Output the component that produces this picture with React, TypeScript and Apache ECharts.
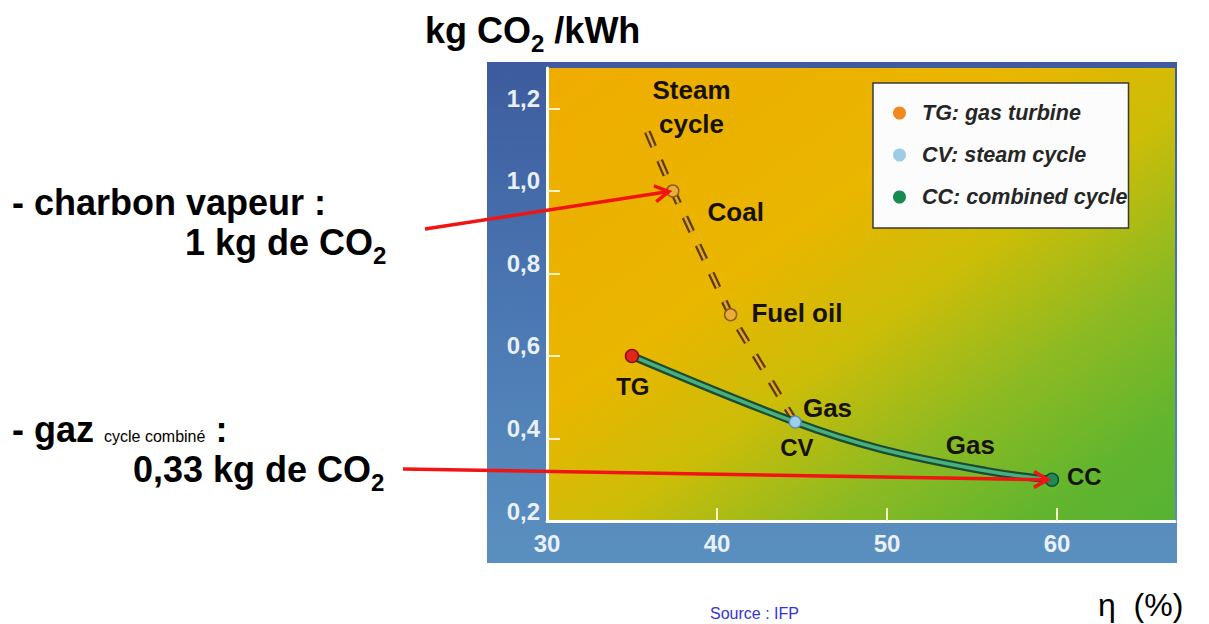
import React, { useEffect, useRef } from 'react';
import * as echarts from 'echarts';

// ---- data ----
const xTicks = [30, 40, 50, 60];
const yTicks = [0.2, 0.4, 0.6, 0.8, 1.0, 1.2];
const xTickMarks = [40, 50, 60];
const yTickMarks = [0.4, 0.6, 0.8, 1.0, 1.2];

const gasCurveX = [35, 44.6, 49.6, 55.9, 59.7];
const gasCurveY = [0.6, 0.44, 0.375, 0.321, 0.3];

const steamLineX = [35.9, 37.4, 40.8, 44.6];
const steamLineY = [1.143, 1.0, 0.7, 0.44];

const plantNames = ['TG', 'CV', 'CC'];
const plantX = [35, 44.6, 59.7];
const plantY = [0.6, 0.44, 0.3];

const fuelNames = ['Coal', 'Fuel oil'];
const fuelX = [37.4, 40.8];
const fuelY = [1.0, 0.7];

const legendNames = ['TG: gas turbine', 'CV: steam cycle', 'CC: combined cycle'];

const noteTexts = ['Steam\ncycle', 'Coal', 'Fuel oil', 'TG', 'Gas', 'CV', 'Gas', 'CC'];
const noteX = [38.5, 41.1, 44.7, 35.05, 46.5, 44.7, 54.9, 61.6];
const noteY = [1.204, 0.949, 0.704, 0.525, 0.474, 0.379, 0.384, 0.307];

const X_MIN = 30;
const X_MAX = 66.94;
const Y_MIN = 0.2;
const Y_MAX = 1.298;

const FONT = "'Liberation Sans', Arial, Helvetica, sans-serif";

function zip(a: number[], b: number[]) {
  return a.map((v, i) => [v, b[i]]);
}

function arrow(id: string, sx: number, sy: number, tx: number, ty: number) {
  const dx = tx - sx;
  const dy = ty - sy;
  const len = Math.hypot(dx, dy);
  const ux = dx / len;
  const uy = dy / len;
  const ex = tx - ux * 4;
  const ey = ty - uy * 4;
  const head = 16;
  const ang = 0.52;
  const wing = (a: number) => {
    const c = Math.cos(a);
    const s = Math.sin(a);
    const rx = ux * c - uy * s;
    const ry = uy * c + ux * s;
    return [ex - head * rx, ey - head * ry];
  };
  const stroke = '#F01414';
  return [
    {
      type: 'line',
      id: id + '_l',
      z: 200,
      shape: { x1: sx, y1: sy, x2: ex, y2: ey },
      style: { stroke, lineWidth: 3.5 },
    },
    {
      type: 'polyline',
      id: id + '_h',
      z: 200,
      shape: { points: [wing(ang), [ex, ey], wing(-ang)] },
      style: { stroke, lineWidth: 3.5, fill: 'none', lineJoin: 'miter' },
    },
  ];
}

export default function App() {
  const ref = useRef<HTMLDivElement>(null);

  useEffect(() => {
    const chart = echarts.init(ref.current!, null, { renderer: 'svg' });

    const plantColors = ['#E2261C', '#9DD0EC', '#1F8A55'];
    const plantBorders = ['#8A1010', '#5E8FB5', '#0F4F30'];
    const legendColors = ['#F08A1E', '#9ECCE2', '#178A52'];

    const bigRich = {
      b: { fontSize: 36, fontWeight: 'bold', lineHeight: 50, fill: '#000', fontFamily: FONT },
      s: { fontSize: 24, fontWeight: 'bold', lineHeight: 24, verticalAlign: 'bottom', fill: '#000', fontFamily: FONT },
    };

    const option: any = {
      animation: false,
      textStyle: { fontFamily: FONT },
      grid: {
        left: 547,
        top: 68,
        width: 628,
        height: 453,
        show: true,
        borderWidth: 0,
        backgroundColor: new echarts.graphic.LinearGradient(0, 0, 1, 1, [
          { offset: 0, color: '#EFAC00' },
          { offset: 0.38, color: '#E9B600' },
          { offset: 0.55, color: '#CBBD08' },
          { offset: 0.72, color: '#8DBA22' },
          { offset: 0.88, color: '#62B52E' },
          { offset: 1, color: '#56B234' },
        ]),
      },
      xAxis: {
        type: 'value',
        min: X_MIN,
        max: X_MAX,
        splitLine: { show: false },
        axisLine: { show: true, lineStyle: { color: '#FFFFFF', width: 3 } },
        axisTick: {
          show: true,
          inside: true,
          length: 13,
          customValues: xTickMarks,
          lineStyle: { color: '#F6F2C8', width: 2 },
        },
        axisLabel: {
          customValues: xTicks,
          color: '#EAF0F8',
          fontSize: 24,
          fontWeight: 'bold',
          fontFamily: FONT,
          margin: 10,
        },
      },
      yAxis: {
        type: 'value',
        min: Y_MIN,
        max: Y_MAX,
        splitLine: { show: false },
        axisLine: { show: true, lineStyle: { color: '#FFFFFF', width: 3 } },
        axisTick: {
          show: true,
          inside: true,
          length: 13,
          customValues: yTickMarks,
          lineStyle: { color: '#F6F2C8', width: 2 },
        },
        axisLabel: {
          customValues: yTicks,
          color: '#EAF0F8',
          fontSize: 24,
          fontWeight: 'bold',
          fontFamily: FONT,
          margin: 7,
          verticalAlign: 'bottom',
          lineHeight: 20,
          formatter: (v: number) => v.toFixed(1).replace('.', ','),
        },
      },
      legend: {
        orient: 'vertical',
        left: 873,
        top: 83,
        backgroundColor: '#FCFCFC',
        borderColor: '#3A3A3A',
        borderWidth: 1.5,
        padding: [19, 1, 20, 20],
        itemGap: 20,
        itemWidth: 13,
        itemHeight: 13,
        icon: 'circle',
        selectedMode: false,
        data: legendNames,
        textStyle: {
          fontSize: 21.5,
          fontStyle: 'italic',
          fontWeight: 'bold',
          color: '#262626',
          fontFamily: FONT,
          lineHeight: 22,
          padding: [0, 0, 0, 11],
        },
      },
      series: [
        ...legendNames.map((n, i) => ({
          type: 'scatter',
          name: n,
          data: [],
          itemStyle: { color: legendColors[i], opacity: 1 },
        })),
        {
          type: 'line',
          name: 'steam-outer',
          data: zip(steamLineX, steamLineY),
          symbol: 'none',
          z: 3,
          lineStyle: { color: '#5E3C12', width: 7, type: [16, 15] },
        },
        {
          type: 'line',
          name: 'steam-inner',
          data: zip(steamLineX, steamLineY),
          symbol: 'none',
          z: 4,
          lineStyle: { color: '#E6AA28', width: 2.5, type: [16, 15] },
        },
        {
          type: 'line',
          name: 'gas-outer',
          data: zip(gasCurveX, gasCurveY),
          symbol: 'none',
          smooth: 0.4,
          z: 5,
          lineStyle: { color: '#1D4A32', width: 8 },
        },
        {
          type: 'line',
          name: 'gas-inner',
          data: zip(gasCurveX, gasCurveY),
          symbol: 'none',
          smooth: 0.4,
          z: 6,
          lineStyle: { color: '#46B07E', width: 3.5 },
        },
        {
          type: 'scatter',
          name: 'fuels',
          z: 7,
          symbolSize: 12,
          data: fuelNames.map((n, i) => ({ name: n, value: [fuelX[i], fuelY[i]] })),
          itemStyle: { color: '#E9AE3A', borderColor: '#8E5E18', borderWidth: 1.5, opacity: 1 },
        },
        {
          type: 'scatter',
          name: 'plants',
          z: 8,
          data: plantNames.map((n, i) => ({
            name: n,
            value: [plantX[i], plantY[i]],
            symbolSize: i === 1 ? 12 : 13,
            itemStyle: { color: plantColors[i], borderColor: plantBorders[i], borderWidth: 1.5, opacity: 1 },
          })),
        },
        {
          type: 'scatter',
          name: 'notes',
          z: 9,
          symbolSize: 0,
          silent: true,
          itemStyle: { color: 'rgba(0,0,0,0)', opacity: 1 },
          data: noteTexts.map((t, i) => ({
            name: t,
            value: [noteX[i], noteY[i]],
            label: { fontSize: ['TG', 'CV', 'CC'].includes(t) ? 24 : 26 },
          })),
          label: {
            show: true,
            position: 'inside',
            formatter: (p: any) => p.name,
            color: '#16120A',
            opacity: 1,
            fontWeight: 'bold',
            fontFamily: FONT,
            lineHeight: 34,
            align: 'center',
            textBorderWidth: 0,
            textBorderColor: 'transparent',
          },
        },
      ],
      graphic: [
        {
          type: 'rect',
          id: 'frame',
          z: -100,
          shape: { x: 487, y: 62, width: 690, height: 501 },
          style: {
            fill: new echarts.graphic.LinearGradient(0, 0, 0, 1, [
              { offset: 0, color: '#3D5B9E' },
              { offset: 0.5, color: '#4B78B2' },
              { offset: 1, color: '#5A90C0' },
            ]),
          },
        },
        {
          type: 'text',
          id: 'title',
          x: 425,
          y: 5,
          style: {
            text: '{b|kg CO}{s|2}{b| /kWh}',
            verticalAlign: 'top',
            fill: '#000',
            fontFamily: FONT,
            rich: bigRich,
          },
        },
        {
          type: 'text',
          id: 'coalTxt1',
          x: 12,
          y: 202,
          style: {
            text: '- charbon vapeur :',
            verticalAlign: 'middle',
            fontSize: 36,
            fontWeight: 'bold',
            fontFamily: FONT,
            fill: '#000',
          },
        },
        {
          type: 'text',
          id: 'coalTxt2',
          x: 185,
          y: 217,
          style: {
            text: '{b|1 kg de CO}{s|2}',
            verticalAlign: 'top',
            fill: '#000',
            fontFamily: FONT,
            rich: bigRich,
          },
        },
        {
          type: 'text',
          id: 'gazTxt1',
          x: 12,
          y: 414,
          style: {
            text: '{b|- gaz }{s|cycle combiné}{b| :}',
            verticalAlign: 'top',
            fill: '#000',
            fontFamily: FONT,
            rich: {
              b: { fontSize: 36, fontWeight: 'bold', lineHeight: 30, fill: '#000', fontFamily: FONT },
              s: { fontSize: 16, lineHeight: 16, verticalAlign: 'bottom', fill: '#000', fontFamily: FONT },
            },
          },
        },
        {
          type: 'text',
          id: 'gazTxt2',
          x: 133,
          y: 444,
          style: {
            text: '{b|0,33 kg de CO}{s|2}',
            verticalAlign: 'top',
            fill: '#000',
            fontFamily: FONT,
            rich: bigRich,
          },
        },
        {
          type: 'text',
          id: 'eta',
          x: 1098,
          y: 605,
          style: {
            text: 'η  (%)',
            verticalAlign: 'middle',
            fontSize: 32,
            fontFamily: FONT,
            fill: '#000',
          },
        },
        {
          type: 'text',
          id: 'source',
          x: 710,
          y: 605,
          style: {
            text: 'Source : IFP',
            verticalAlign: 'top',
            fontSize: 16,
            fontFamily: FONT,
            fill: '#3434D4',
          },
        },
      ],
    };

    chart.setOption(option);

    const coalPx = chart.convertToPixel({ gridIndex: 0 }, [fuelX[0], fuelY[0]]) as number[];
    const ccPx = chart.convertToPixel({ gridIndex: 0 }, [plantX[2], plantY[2]]) as number[];
    chart.setOption({
      graphic: [
        ...arrow('arrowCoal', 425, 229, coalPx[0], coalPx[1]),
        ...arrow('arrowGas', 403, 469, ccPx[0], ccPx[1]),
      ],
    });

    return () => chart.dispose();
  }, []);

  return (
    <div
      ref={ref}
      style={{ position: 'fixed', left: 0, top: 0, width: 1209, height: 624, background: '#FFFFFF' }}
    />
  );
}
